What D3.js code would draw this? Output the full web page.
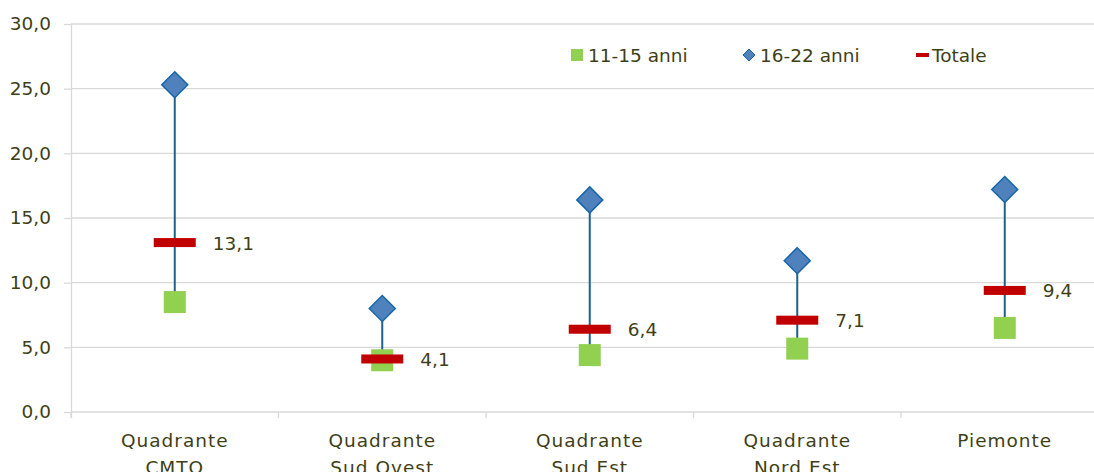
<!DOCTYPE html>
<html>
<head>
<meta charset="utf-8">
<script src="https://cdn.jsdelivr.net/npm/d3@7"></script>
<style>
  body { margin: 0; background: #fff; }
  text { font-family: "DejaVu Sans", sans-serif; fill: #3f3f17; }
</style>
</head>
<body>
<svg id="chart" width="1094" height="472"></svg>
<script>
// data
var categories = [["Quadrante", "CMTO"], ["Quadrante", "Sud Ovest"], ["Quadrante", "Sud Est"], ["Quadrante", "Nord Est"], ["Piemonte"]];
var young = [8.5, 4.0, 4.4, 4.9, 6.5];     // 11-15 anni
var older = [25.3, 8.0, 16.4, 11.7, 17.2]; // 16-22 anni
var totale = [13.1, 4.1, 6.4, 7.1, 9.4];
var yTicks = [0, 5, 10, 15, 20, 25, 30];

(function () {
	var svg = d3.select('#chart');
	var left = 71, right = 1108.5, top = 24, bottom = 412;
	var fs = '18.5px';
	var fmt = function (v) { return v.toFixed(1).replace('.', ','); };

	var x = d3.scaleBand().domain(d3.range(categories.length)).range([left, right]);
	var y = d3.scaleLinear().domain([0, 30]).range([bottom, top]);

	// grid
	svg.append('g').selectAll('line')
		.data(yTicks)
		.enter().append('line')
		.attr('x1', left).attr('x2', 1094)
		.attr('y1', function (d) { return y(d); })
		.attr('y2', function (d) { return y(d); })
		.attr('stroke', '#d9d9d9').attr('stroke-width', 1.3);

	// y axis
	var yAxis = svg.append('g')
		.attr('transform', 'translate(' + left + ',0)')
		.call(d3.axisLeft(y).tickValues(yTicks).tickSize(7).tickPadding(13).tickFormat(fmt));
	yAxis.select('.domain').attr('stroke', '#d9d9d9').attr('stroke-width', 1.3)
		.attr('d', 'M0.5,' + top + 'V' + (bottom + 6));
	yAxis.selectAll('.tick line').attr('stroke', '#d9d9d9').attr('stroke-width', 1.3);
	yAxis.selectAll('.tick text').style('font-size', fs).attr('fill', '#3f3f17')
		.style('font-family', '"DejaVu Sans", sans-serif');

	// x axis ticks between categories
	var bounds = d3.range(categories.length + 1).map(function (i) { return left + i * x.step(); });
	svg.append('g').selectAll('line')
		.data(bounds)
		.enter().append('line')
		.attr('x1', function (d) { return d; }).attr('x2', function (d) { return d; })
		.attr('y1', bottom).attr('y2', bottom + 6)
		.attr('stroke', '#d9d9d9').attr('stroke-width', 1.3);

	// category labels
	var cat = svg.append('g').selectAll('text')
		.data(categories)
		.enter().append('text')
		.attr('x', function (d, i) { return x(i) + x.bandwidth() / 2; })
		.attr('y', 447)
		.attr('text-anchor', 'middle')
		.style('font-size', fs)
		.style('letter-spacing', '1px');
	cat.selectAll('tspan')
		.data(function (d) { return d; })
		.enter().append('tspan')
		.attr('x', function () { return d3.select(this.parentNode).attr('x'); })
		.attr('dy', function (d, i) { return i === 0 ? 0 : 27; })
		.text(function (d) { return d; });

	var cx = function (i) { return x(i) + x.bandwidth() / 2; };

	// high-low lines
	svg.append('g').selectAll('line')
		.data(older)
		.enter().append('line')
		.attr('x1', function (d, i) { return cx(i); })
		.attr('x2', function (d, i) { return cx(i); })
		.attr('y1', function (d) { return y(d); })
		.attr('y2', function (d, i) { return y(young[i]); })
		.attr('stroke', '#1f6288').attr('stroke-width', 2);

	// 11-15 squares
	svg.append('g').selectAll('rect')
		.data(young)
		.enter().append('rect')
		.attr('x', function (d, i) { return cx(i) - 11; })
		.attr('y', function (d) { return y(d) - 11; })
		.attr('width', 22).attr('height', 22)
		.attr('fill', '#92d050');

	// 16-22 diamonds
	var diamond = 'M0,-13L13,0L0,13L-13,0Z';
	svg.append('g').selectAll('path')
		.data(older)
		.enter().append('path')
		.attr('d', diamond)
		.attr('transform', function (d, i) { return 'translate(' + cx(i) + ',' + y(d) + ')'; })
		.attr('fill', '#4f81bd').attr('stroke', '#1866a8').attr('stroke-width', 1.5);

	// totale bars
	svg.append('g').selectAll('rect')
		.data(totale)
		.enter().append('rect')
		.attr('x', function (d, i) { return cx(i) - 21; })
		.attr('y', function (d) { return y(d) - 4.5; })
		.attr('width', 42).attr('height', 9)
		.attr('fill', '#c00000');

	// totale labels
	svg.append('g').selectAll('text')
		.data(totale)
		.enter().append('text')
		.attr('x', function (d, i) { return cx(i) + 38; })
		.attr('y', function (d) { return y(d) + 7; })
		.style('font-size', fs)
		.text(fmt);

	// legend
	var legend = svg.append('g');
	legend.append('rect').attr('x', 571).attr('y', 49).attr('width', 12).attr('height', 12).attr('fill', '#92d050');
	legend.append('text').attr('x', 588).attr('y', 62).style('font-size', fs).text('11-15 anni');
	legend.append('path').attr('d', 'M0,-6L6,0L0,6L-6,0Z').attr('transform', 'translate(749,55)')
		.attr('fill', '#4f81bd').attr('stroke', '#1866a8').attr('stroke-width', 1);
	legend.append('text').attr('x', 760).attr('y', 62).style('font-size', fs).text('16-22 anni');
	legend.append('rect').attr('x', 916).attr('y', 53).attr('width', 13).attr('height', 4).attr('fill', '#c00000');
	legend.append('text').attr('x', 932).attr('y', 62).style('font-size', fs).text('Totale');
}());
</script>
</body>
</html>
